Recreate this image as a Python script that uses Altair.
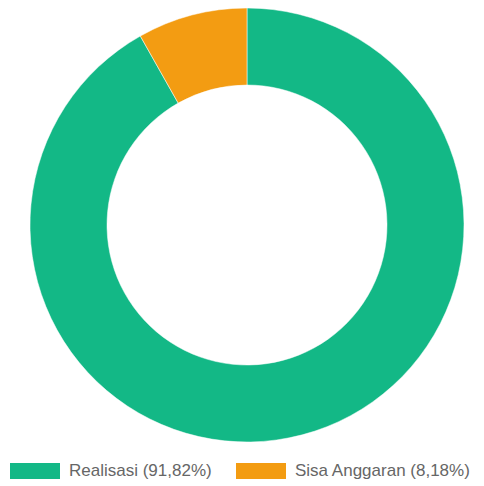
import altair as alt
import pandas as pd

categories = ["Realisasi (91,82%)", "Sisa Anggaran (8,18%)"]
values = [91.82, 8.18]
colors = ["#13B886", "#F39C12"]

df = pd.DataFrame({"kategori": categories, "nilai": values, "urut": [0, 1]})

chart = alt.Chart(df).mark_arc(outerRadius=217, innerRadius=140, stroke="#ffffff", strokeWidth=0.5).encode(
    theta=alt.Theta("nilai:Q", stack=True),
    order=alt.Order("urut:Q"),
    color=alt.Color(
        "kategori:N",
        scale=alt.Scale(domain=categories, range=colors),
        sort=categories,
        legend=alt.Legend(
            title=None,
            orient="none",
            legendX=2,
            legendY=438,
            direction="horizontal",
            symbolType="M-1,-0.32H1V0.32H-1Z",
            symbolSize=2500,
            symbolStrokeWidth=0,
            labelFont="Liberation Sans",
            labelFontSize=17,
            labelColor="#666666",
            labelLimit=400,
            columnPadding=24,
            symbolOffset=0,
            labelOffset=9,
            padding=0,
        ),
    ),
    x=alt.value(239),
    y=alt.value(217),
).properties(width=468, height=477, padding=0, autosize="none").configure_view(stroke=None)

chart.save("out.html", embed_options={"renderer": "svg", "actions": False})
